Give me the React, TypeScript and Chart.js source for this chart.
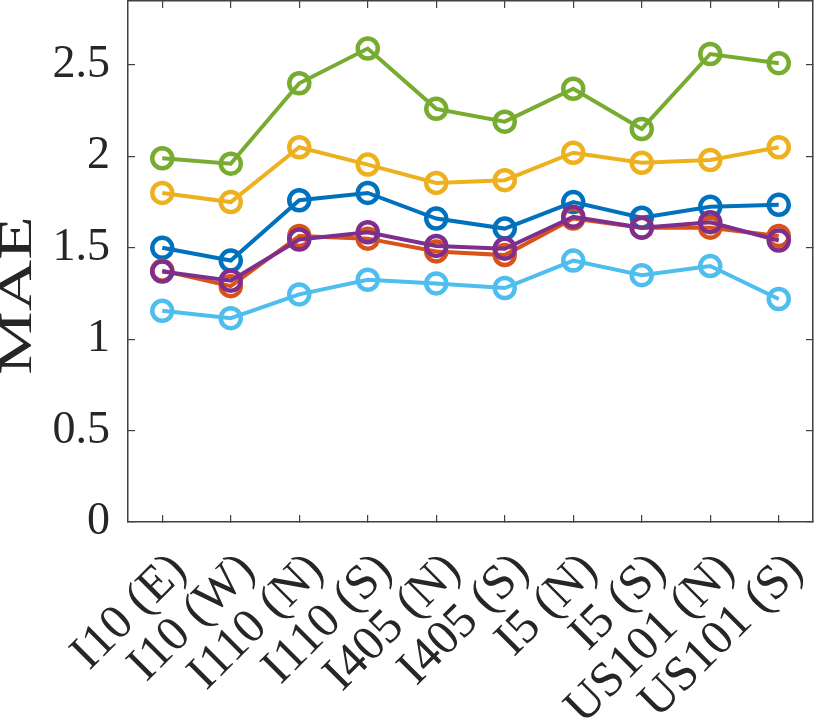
import React, { useEffect, useRef } from 'react';
import Chart from 'chart.js/auto';

const roads = [
  'I10 (E)',
  'I10 (W)',
  'I110 (N)',
  'I110 (S)',
  'I405 (N)',
  'I405 (S)',
  'I5 (N)',
  'I5 (S)',
  'US101 (N)',
  'US101 (S)',
];

// one series per colour, MATLAB default order
const blueSeries = [1.5, 1.43, 1.76, 1.8, 1.66, 1.605, 1.75, 1.665, 1.725, 1.735];
const orangeSeries = [1.375, 1.29, 1.565, 1.55, 1.48, 1.46, 1.66, 1.61, 1.61, 1.565];
const yellowSeries = [1.8, 1.75, 2.05, 1.955, 1.855, 1.87, 2.02, 1.965, 1.98, 2.05];
const purpleSeries = [1.37, 1.32, 1.545, 1.585, 1.51, 1.495, 1.67, 1.61, 1.64, 1.54];
const greenSeries = [1.99, 1.96, 2.4, 2.59, 2.26, 2.19, 2.37, 2.15, 2.56, 2.51];
const cyanSeries = [1.155, 1.115, 1.245, 1.325, 1.305, 1.28, 1.43, 1.35, 1.4, 1.22];

const yMin = 0;
const yMax = 2.85;
const yStep = 0.5;

const seriesList = [
  { data: blueSeries, color: '#0072BD' },
  { data: orangeSeries, color: '#D95319' },
  { data: yellowSeries, color: '#EDB120' },
  { data: purpleSeries, color: '#7E2F8E' },
  { data: greenSeries, color: '#77AC30' },
  { data: cyanSeries, color: '#4DBEEE' },
];

const FONT = "'Liberation Serif', 'Times New Roman', serif";
const AXIS = '#404040';

// fixed box sizes so the plot area lands where the figure has it
const fixBox = (w: number | null, h: number | null) => (scale: any) => {
  if (w !== null) scale.width = w;
  if (h !== null) scale.height = h;
  scale.paddingTop = 0;
  scale.paddingBottom = 0;
  scale.paddingLeft = 0;
  scale.paddingRight = 0;
};

// stretched y-axis title, like the exported figure
const yTitlePlugin = {
  id: 'yTitle',
  afterDraw(chart: any) {
    const { ctx, chartArea } = chart;
    ctx.save();
    ctx.translate(19, (chartArea.top + chartArea.bottom) / 2 + 34);
    ctx.rotate(-Math.PI / 2);
    ctx.scale(1.55, 1);
    ctx.font = `46px ${FONT}`;
    ctx.fillStyle = '#262626';
    ctx.textAlign = 'center';
    ctx.textBaseline = 'middle';
    ctx.fillText('MAE', 0, 0);
    ctx.restore();
  },
};

const tickGrid = {
  offset: false,
  drawOnChartArea: false,
  tickLength: -7,
  color: AXIS,
  lineWidth: 1.2,
};

const App: React.FC = () => {
  const chartRef = useRef<HTMLCanvasElement>(null);

  useEffect(() => {
    const ctx = chartRef.current?.getContext('2d');
    if (!ctx) return;

    const myChart = new Chart(ctx, {
      type: 'line',
      data: {
        labels: roads,
        datasets: seriesList.map((s, i) => ({
          data: s.data,
          borderColor: s.color,
          backgroundColor: 'rgba(0,0,0,0)',
          borderWidth: 4,
          pointRadius: 10,
          pointBorderWidth: 4.5,
          pointBorderColor: s.color,
          pointBackgroundColor: 'rgba(0,0,0,0)',
          tension: 0,
          order: seriesList.length - i, // later series on top
        })),
      },
      options: {
        responsive: false,
        animation: false,
        layout: { padding: 0, autoPadding: false },
        plugins: {
          legend: { display: false },
          tooltip: { enabled: false },
        },
        scales: {
          x: {
            type: 'category',
            offset: true,
            grid: tickGrid,
            border: { display: true, color: AXIS, width: 1.5 },
            ticks: {
              autoSkip: false,
              minRotation: 45,
              maxRotation: 45,
              padding: 27,
              labelOffset: 17,
              color: '#262626',
              font: { family: FONT, size: 49 },
            },
            afterFit: fixBox(null, 204),
          },
          x2: {
            type: 'category',
            position: 'top',
            offset: true,
            grid: tickGrid,
            border: { display: true, color: AXIS, width: 1.5 },
            ticks: { display: false },
            afterFit: fixBox(null, 1),
          },
          y: {
            min: yMin,
            max: yMax,
            grid: tickGrid,
            border: { display: true, color: AXIS, width: 1.5 },
            ticks: {
              stepSize: yStep,
              includeBounds: false,
              padding: 25,
              color: '#262626',
              font: { family: FONT, size: 46 },
              callback: (v: any) => String(v),
            },
            afterFit: fixBox(128, null),
          },
          y2: {
            position: 'right',
            min: yMin,
            max: yMax,
            grid: tickGrid,
            border: { display: true, color: AXIS, width: 1.5 },
            ticks: { display: false, stepSize: yStep, includeBounds: false },
            afterFit: fixBox(17, null),
          },
        },
      },
      plugins: [yTitlePlugin],
    });

    return () => {
      myChart.destroy();
    };
  }, []);

  return (
    <div style={{ position: 'absolute', left: 0, top: 0, width: 830, height: 726, background: '#fff' }}>
      <canvas ref={chartRef} width={830} height={726}></canvas>
    </div>
  );
};

export default App;
